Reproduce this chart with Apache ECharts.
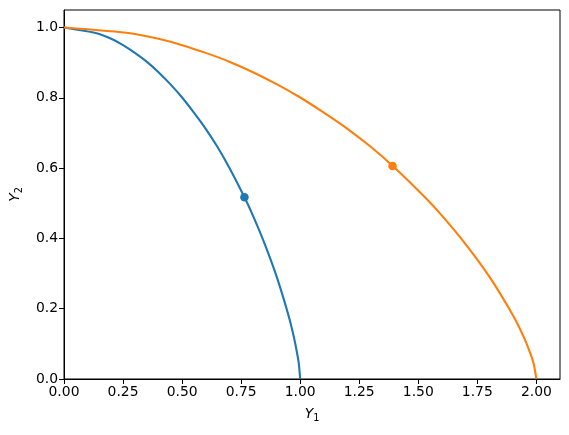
<!DOCTYPE html>
<html><head><meta charset="utf-8">
<script src="https://cdn.jsdelivr.net/npm/echarts@6/dist/echarts.min.js"></script>
<style>html,body{margin:0;padding:0;background:#fff}#c{width:569px;height:435px}</style>
</head><body><div id="c"></div>
<script>
// Blue frontier (Y1, Y2)
const blueX = [0, 0.138, 0.2, 0.25, 0.3, 0.35, 0.4, 0.45, 0.5, 0.55, 0.6, 0.65, 0.7, 0.764, 0.8, 0.85, 0.9, 0.95, 0.975, 0.99, 0.995, 1.0];
const blueY = [1, 0.984, 0.968, 0.950, 0.928, 0.903, 0.873, 0.839, 0.801, 0.758, 0.712, 0.660, 0.601, 0.517, 0.465, 0.384, 0.292, 0.182, 0.114, 0.062, 0.039, 0];
// Orange frontier
const orangeX = [0, 0.28, 0.4, 0.5, 0.6, 0.7, 0.8, 0.9, 1.0, 1.1, 1.2, 1.3, 1.4, 1.528, 1.6, 1.7, 1.8, 1.9, 1.95, 1.98, 1.99, 2.0];
const orangeY = [1, 0.984, 0.968, 0.950, 0.928, 0.903, 0.873, 0.839, 0.801, 0.758, 0.712, 0.660, 0.601, 0.517, 0.465, 0.384, 0.292, 0.182, 0.114, 0.062, 0.039, 0];
// Marked points
const bluePoint = [0.764, 0.517];
const orangePoint = [1.391, 0.606];
// Ticks
const xTicks = [0, 0.25, 0.5, 0.75, 1.0, 1.25, 1.5, 1.75, 2.0];
const yTicks = [0, 0.2, 0.4, 0.6, 0.8, 1.0];

const FONT = 'DejaVu Sans';
const zip = (a, b) => a.map((v, i) => [v, b[i]]);
const chart = echarts.init(document.getElementById('c'), null, {renderer: 'canvas'});
chart.setOption({
  animation: false,
  backgroundColor: '#fff',
  grid: {left: 64, right: 9, top: 10, bottom: 56, show: true, borderColor: '#000', borderWidth: 1, backgroundColor: 'transparent'},
  xAxis: {
    type: 'value', min: 0, max: 2.1,
    splitLine: {show: false},
    axisLine: {onZero: false, lineStyle: {color: '#000', width: 1}},
    axisTick: {customValues: xTicks, length: 5, lineStyle: {color: '#000'}},
    axisLabel: {customValues: xTicks, color: '#000', fontFamily: FONT, fontSize: 13.9, margin: 6,
      formatter: v => v.toFixed(2)},
    name: '{i|Y}{s|1}', nameLocation: 'middle', nameGap: 26,
    nameTextStyle: {rich: {
      i: {fontFamily: FONT, fontStyle: 'italic', fontSize: 13.9, color: '#000'},
      s: {fontFamily: FONT, fontSize: 9.7, color: '#000', padding: [8, 0, 0, 0]}
    }}
  },
  yAxis: {
    type: 'value', min: 0, max: 1.05,
    splitLine: {show: false},
    axisLine: {show: true, onZero: false, lineStyle: {color: '#000', width: 1}},
    axisTick: {show: true, customValues: yTicks, length: 5, lineStyle: {color: '#000'}},
    axisLabel: {customValues: yTicks, color: '#000', fontFamily: FONT, fontSize: 13.9, margin: 6,
      formatter: v => v.toFixed(1)},
    name: '{i|Y}{s|2}', nameLocation: 'middle', nameGap: 40, nameRotate: 90,
    nameTextStyle: {rich: {
      i: {fontFamily: FONT, fontStyle: 'italic', fontSize: 13.9, color: '#000'},
      s: {fontFamily: FONT, fontSize: 9.7, color: '#000', padding: [8, 0, 0, 0]}
    }}
  },
  series: [
    {type: 'line', data: zip(blueX, blueY), showSymbol: false, smooth: 0.2,
     lineStyle: {color: '#1f77b4', width: 2.1}, itemStyle: {color: '#1f77b4'}, z: 2},
    {type: 'line', data: zip(orangeX, orangeY), showSymbol: false, smooth: 0.2,
     lineStyle: {color: '#ff7f0e', width: 2.1}, itemStyle: {color: '#ff7f0e'}, z: 2},
    {type: 'scatter', data: [bluePoint], symbolSize: 8.5, itemStyle: {color: '#1f77b4', opacity: 1}, z: 3},
    {type: 'scatter', data: [orangePoint], symbolSize: 8.5, itemStyle: {color: '#ff7f0e', opacity: 1}, z: 3}
  ]
});
</script></body></html>
